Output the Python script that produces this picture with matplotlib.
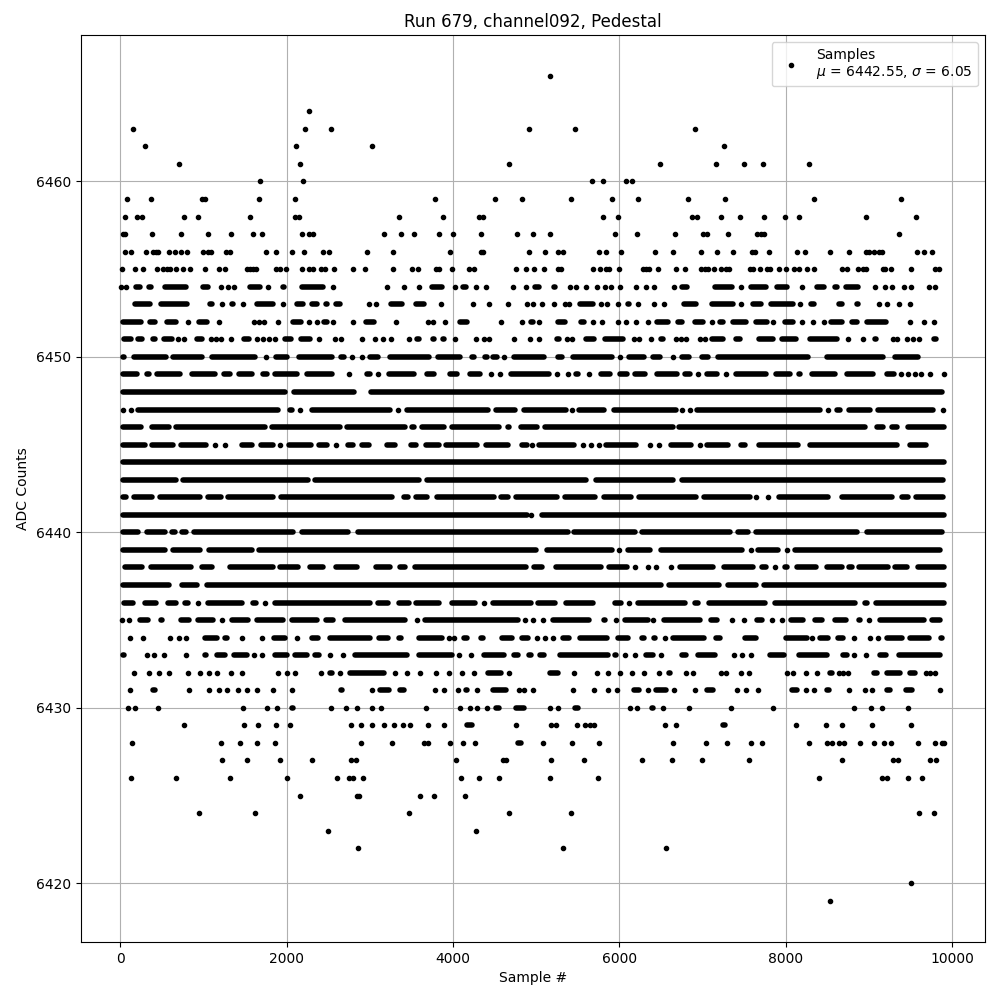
import matplotlib
matplotlib.use("Agg")
import matplotlib.pyplot as plt

# Values. A plain number is one visible sample; an (a, b) pair is a
# stretch of a row where the dots merge and single samples cannot be read, drawn as a bar.
L6466 = [5164]
L6464 = [2263]
L6463 = [153, 2215, 2529, 4917, 5465, 6913]
L6462 = [297, 2106, 3023, 7262]
L6461 = [708, 2155, 4675, 6490, 7166, 7503, 7733, 8275]
L6460 = [1672, 2191, 5670, 5803, 6080, 6153]
L6459 = [80, 370, 985, 1017, 1660, 2094, 3783, 4506, 4832, 5417, 5912, 6225, 6828, 7274, 8336, 9385]
L6458 = [56, 201, 261, 768, 937, 1552, 2094, 2143, 3349, 3879, 4313, 4362, 5803, 5984, 6876, 6937, 7226, 7455, 7745, 7986, 8155, 8963, 9566]
L6457 = [28, 60, 382, 732, 1057, 1323, 1588, 1696, 2179, 2263, 2312, 3168, 3373, 3530, 3831, 4000, 4338, 4772, 4965, 5164, 5948, 6213, 6671, 7009, 7057, 7311, 7660, 7708, 7745, 9361]
L6456 = [56, 129, 310, 394, 430, 454, 587, 659, 732, 804, 997, 1057, 1093, 1270, 1311, 1745, 1865, 2062, 2203, 2432, 2504, 2963, 3276, 3964, 4330, 4360, 4917, 5104, 5260, 5321, 5755, 5839, 6020, 6430, 6647, 6985, 7178, 7371, 7600, 7636, 7805, 8131, 8227, 8529, 8758, 8963, 8999, 9060, 9120, 9156, 9578, 9662, 9759]
L6455 = [20, 177, 273, 442, 515, 563, 599, 671, 756, 840, 1021, 1190, 1262, 1516, 1552, 1588, 1624, 1865, 1914, 1986, 2179, 2263, 2312, 2408, 2456, 2565, 2794, 2939, 3276, 3505, 3578, 3795, 3831, 3988, 4193, 4253, 4760, 4880, 4977, 5091, 5260, 5297, 5682, 5767, 5839, 5875, 5996, 6285, 6322, 6358, 6466, 6683, 6792, 6985, 7033, 7069, 7142, 7226, 7286, 7323, 7576, 7612, 7696, 7781, 7817, 7914, 8000, 8095, 8155, 8251, 8336, 8673, 8734, 8866, 8927, 8963, 9168, 9192, 9264, 9505, 9795, 9843]
L6454 = [8, 68, (153, 269), (310, 402), (503, 816), (961, 1081), 1214, 1298, 1371, (1528, 1708), 1769, (1926, 1998), (2151, 2472), (2529, 2589), 3204, 3409, 3586, (3719, 3903), 4024, (4088, 4193), 4277, 4398, 4724, 4880, (4949, 5067), (5187, 5260), 5405, 5473, 5598, 5731, 5827, 5900, 6008, (6177, 6225), 6322, 6418, 6659, (6724, 6844), (7118, 7391), 7467, (7552, 7801), (7865, 8042), 8199, (8348, 8492), (8565, 8645), (8697, 8902), 9071, 9192, 9276, 9421, 9505, 9723, 9795]
L6453 = [(141, 382), (454, 832), (1045, 1138), (1186, 1250), (1307, 1387), 1479, (1612, 1861), 1950, (2090, 2231), (2271, 2392), (2440, 2513), (2565, 2673), 2987, 3071, (3216, 3421), (3518, 3686), (3831, 3879), (4217, 4265), 4434, 4663, (4856, 4917), 4967, 5067, 5208, 5341, 5389, (5498, 5711), 5779, 5851, (5960, 6012), (6072, 6153), 6225, 6418, 6539, (6740, 6949), (7085, 7399), 7467, (7576, 7733), (7793, 8123), 8167, (8275, 8372), (8613, 8710), (8830, 8902), 9120, 9216, (9337, 9389), 9493, (9626, 9698)]
L6452 = [(0, 273), (326, 446), (527, 704), 816, (913, 1069), (1154, 1210), (1335, 1403), 1600, 1668, 1729, 1897, (2038, 2199), 2271, 2360, (2416, 2513), 2561, 2794, (2915, 3083), 3313, 3698, 3759, (3879, 3936), (4048, 4201), (4329, 4394), (4543, 4603), 4832, (4904, 4997), 5035, (5228, 5381), (5510, 5610), 5682, 5791, 5984, (6044, 6105), (6177, 6225), 6346, (6418, 6611), (6675, 6788), (6876, 7037), 7118, (7178, 7278), (7335, 7560), (7608, 7809), 7853, (7962, 8115), 8191, 8324, 8456, (8516, 8705), (8766, 8886), (8951, 9240), 9493, 9662, 9783]
L6451 = [(12, 161), (181, 285), (362, 442), (494, 647), 695, 768, (884, 1017), 1093, 1154, 1214, 1335, (1455, 1580), 1636, 1709, 1781, 1853, (1950, 2082), (2143, 2312), (2360, 2412), 2577, 2657, 2902, 3059, 3156, (3236, 3276), 3469, (3538, 3622), (3731, 3799), (3847, 3920), (4000, 4048), (4241, 4301), 4370, 4430, 4736, 4929, (4997, 5059), (5220, 5309), 5369, 5429, (5570, 5731), (5791, 6072), 6177, 6237, 6378, (6474, 6555), 6683, 6744, 6804, 6965, 7025, (7077, 7278), (7367, 7479), (7648, 7881), (7921, 8155), (8263, 8645), (8726, 8766), (8898, 8951), (9047, 9120), 9288, 9337, 9457, 9530, 9602, (9751, 9843)]
L6450 = [(0, 80), (129, 583), (603, 1017), (1065, 1648), 1749, (1837, 2030), (2110, 2573), (2625, 2714), 2782, 2902, (2963, 3124), (3204, 3739), (3791, 4121), (4201, 4281), (4346, 4434), (4450, 4563), 4611, (4704, 5128), (5228, 5341), (5409, 5944), 6008, (6080, 6322), (6374, 6515), 6647, (6724, 6868), (6957, 7101), (7158, 8304), (8464, 9200), (9280, 9618), (9723, 9795)]
L6449 = [(0, 229), (281, 374), (406, 752), (832, 1166), (1218, 1347), (1395, 1608), (1684, 1797), (1829, 2159), (2207, 2577), 2754, (2935, 3035), 3099, (3196, 3566), (3658, 3807), (3932, 4080), (4173, 4354), 4450, 4563, (4667, 5180), 5248, 5381, (5449, 5530), 5630, (5751, 5920), (5976, 6121), (6161, 6334), (6426, 6724), (6763, 6876), 6949, (7025, 7206), 7286, (7367, 7801), (7849, 8083), (8123, 8203), (8283, 8625), (8705, 9087), (9188, 9329), 9389, 9469, 9550, 9630, 9731, 9904]
L6448 = [(0, 2010), (2050, 2842), (2975, 9912)]
L6447 = [(0, 60), 121, (173, 1930), (2010, 2090), 2159, (2271, 3268), 3337, (3417, 4450), (4482, 4772), (4824, 5389), 5429, (5478, 5843), (5904, 6707), 6756, 6848, (6904, 8444), (8484, 8545), (8585, 8685), (8726, 9047), (9079, 9803), 9892]
L6446 = [(0, 281), (350, 615), (639, 1769), (1789, 2673), (2693, 3457), (3477, 3558), (3590, 3920), (3952, 4583), (4623, 4704), (4784, 5047), (5075, 6675), (6683, 8987), (9067, 9208), (9248, 9369), (9441, 9932)]
L6445 = [(0, 322), (350, 663), (695, 1065), 1138, 1258, (1427, 1608), (1660, 1861), 1918, (1998, 2320), (2360, 2521), 2593, (2706, 2834), (2874, 3015), (3176, 3337), (3457, 3590), (3646, 3859), (3887, 4321), (4362, 4692), (4796, 4925), 4947, (5007, 5490), 5562, 5658, 5751, (5811, 6233), 6366, 6474, (6587, 6896), 6965, (7025, 7339), (7427, 7548), (7648, 8183), (8263, 9369), (9457, 9723)]
L6444 = [(0, 9932)]
L6443 = [(0, 704), (724, 2291), (2312, 3618), (3658, 5630), (5691, 6675), (6723, 9924)]
L6442 = [(0, 100), (133, 414), (442, 993), (1025, 1246), (1266, 1869), (1901, 3296), (3377, 3489), (3526, 3719), (3779, 4522), (4543, 4692), (4724, 5276), (5317, 5743), (5779, 6173), (6201, 6957), (6985, 7608), 7640, 7789, (7893, 8537), (8645, 9309), (9361, 9497), (9537, 9924)]
L6441 = [(0, 4925), 4939, (5039, 9932)]
L6440 = [(0, 241), (281, 563), (583, 683), (712, 824), (856, 2110), (2151, 2774), (2826, 5409), (5421, 6225), (6241, 7367), (7391, 7580), (7608, 8895), (8947, 9912)]
L6439 = [(0, 563), (603, 985), (1029, 1608), (1628, 5027), (5099, 5944), 6000, (6072, 6402), (6474, 7511), 7580, (7640, 7942), 8010, (8074, 9892)]
L6438 = [(28, 293), (334, 884), (945, 1138), (1186, 1258), (1286, 1861), (1889, 2163), (2251, 2472), (2565, 2874), (3035, 3276), (3325, 3457), (3509, 4904), (4945, 5099), (5208, 5811), (5839, 6121), 6193, 6346, 6442, 6615, (6695, 7158), (7230, 7640), (7680, 7801), (7841, 7901), (7954, 8050), (8107, 8396), (8464, 8705), (8726, 8826), (8854, 9268), (9288, 9489), (9562, 9932)]
L6437 = [(0, 615), (712, 953), (1005, 6535), (6563, 7230), (7278, 7680), (7712, 9932)]
L6436 = [(12, 181), (261, 462), (535, 695), (744, 844), 937, (1025, 1499), (1560, 1656), 1741, (1829, 3027), (3059, 3244), (3317, 3497), (3526, 3863), (3952, 4293), 4374, (4450, 4973), (4995, 5260), (5329, 5711), (5912, 6052), 6121, (6193, 6816), (6876, 6977), (7049, 7781), (7841, 8866), (8927, 9015), (9055, 9932)]
L6435 = [(0, 40), 101, (201, 362), (454, 535), (695, 856), (905, 1146), 1226, (1315, 1568), (1608, 1990), (2030, 2392), (2440, 2593), (2673, 3457), 3566, (3630, 4812), 4864, 4955, 5087, (5168, 5662), (5783, 5863), 5960, (6040, 6374), 6406, (6502, 6997), (7065, 7206), 7359, 7504, (7620, 7753), 7833, 7950, (8034, 8243), (8324, 8464), (8557, 8758), (8846, 8927), 8999, (9107, 9690), (9731, 9883)]
L6434 = [109, 273, 591, 708, 792, (985, 1194), (1226, 1315), 1467, 1700, (1813, 2010), 2119, (2271, 2408), (2492, 3035), (3075, 3244), (3317, 3409), (3558, 3899), 3948, 4012, (4100, 4201), (4301, 4394), (4551, 4736), (4796, 4933), 5007, 5104, 5200, (5288, 5429), (5490, 5883), (5952, 6133), (6241, 6322), (6386, 6466), 6551, (6615, 7045), (7126, 7238), (7479, 7680), (7970, 8283), 8316, (8384, 8545), (8597, 8726), (8786, 8846), (8987, 9047), 9112, (9188, 9429), (9469, 9751), (9831, 9912)]
L6433 = [(0, 80), 314, 406, (503, 543), 792, (985, 1065), (1126, 1286), (1339, 1548), 1608, 1696, (1829, 2030), (2070, 2271), (2312, 2424), 2521, 2681, (2794, 3477), (3558, 4020), 4072, 4213, (4342, 4643), (4704, 4812), (4884, 4965), (5019, 5128), (5248, 5892), (5912, 5992), 6072, (6161, 6225), (6293, 6434), (6474, 6535), (6716, 6828), (6917, 7178), 7383, 7479, 7588, (7781, 8010), (8123, 8525), (8653, 8766), 8818, 8971, (9107, 9240), (9329, 9892)]
L6432 = [165, 346, 462, 587, 816, 961, 1069, 1166, (1298, 1355), 1463, (1869, 1930), 1998, 2094, (2392, 2432), (2492, 2573), 2637, (2734, 3196), (3276, 3337), 3445, (3578, 3638), 3795, 3952, (4080, 4141), 4249, (4382, 4603), 4675, (4985, 5059), (5128, 5288), (5429, 5490), (5622, 5690), 5731, 5863, (5984, 6032), 6153, 6297, 6478, (6563, 6643), (6780, 6816), 6884, 7218, 7286, 7467, 7564, 8010, 8090, 8239, 8376, (8504, 8585), 8637, 8693, 8754, (9027, 9128), (9188, 9409), (9469, 9590), 9682, 9739, 9795, (9843, 9912)]
L6431 = [117, (362, 442), 828, 1069, 1186, 1286, 1419, 1516, 1636, (1809, 1853), (2038, 2086), (2625, 2697), (2826, 2894), 3023, (3083, 3256), (3329, 3437), 3783, (3859, 3920), 4060, (4120, 4201), 4289, (4442, 4663), 4796, 4852, 4965, (5409, 5469), 5690, 5863, 5972, (6145, 6273), 6346, (6406, 6595), 6659, 6905, (7017, 7158), 7419, 7528, (7648, 7688), (8042, 8171), 8239, 8336, (8464, 8557), 8758, 8951, (9007, 9067), (9188, 9288), (9409, 9550), 9855]
L6430 = [92, 177, (430, 482), (1270, 1335), 1479, 1757, 1877, (2030, 2110), 2529, 2717, 2842, (2995, 3055), 3128, 3670, 4084, 4205, 4289, 4410, (4482, 4583), (4724, 4884), 5164, 5260, (5437, 5530), 6133, 6213, (6366, 6442), 6523, (6804, 6864), 7347, 7853, 8818, 9023, (9136, 9188), 9469]
L6429 = [(744, 792), 1491, 1648, 1865, (2022, 2058), 2770, 2898, 3023, 3168, 3288, 3397, 3485, 3698, 3891, (4141, 4261), 4760, 5176, 5236, 5489, 5586, 5642, 5698, 6551, 6683, (7218, 7307), 8119, 8480, 8673, 9035, (9473, 9530)]
L6428 = [141, 1214, 1443, 1636, 1853, 2890, 3264, 3646, 3698, 3964, 4120, 4265, (4744, 4844), 5079, 5429, 5755, 6647, 7041, 7294, 7588, 7721, 8275, 8492, 8557, 8645, 8705, 8891, 9059, 9180, 9264, 9590, 9795, 9875, 9904]
L6427 = [1226, 1516, 1914, 2299, 2770, 2830, 4036, 4603, 4635, 5176, 5574, 6273, 6635, 6997, 7564, 8673, 9288, 9349, 9735, 9803]
L6426 = [129, 671, 1311, 1998, 2601, 2746, 2794, 2915, 4096, 4313, 4555, 5164, 5743, 8396, 9156, 9216, 9469, 9638]
L6425 = [2155, 2842, 2866, 3602, 3771, 4145]
L6424 = [949, 1612, 3469, 4675, 5417, 9602, 9783]
L6423 = [2492, 4277]
L6422 = [2854, 5321, 6563]
L6420 = [9505]
L6419 = [8529]

ADC_LEVELS = [6466, 6464, 6463, 6462, 6461, 6460, 6459, 6458, 6457, 6456, 6455, 6454, 6453, 6452, 6451, 6450, 6449, 6448, 6447, 6446, 6445, 6444, 6443, 6442, 6441, 6440, 6439, 6438, 6437, 6436, 6435, 6434, 6433, 6432, 6431, 6430, 6429, 6428, 6427, 6426, 6425, 6424, 6423, 6422, 6420, 6419]
ROWS = [L6466, L6464, L6463, L6462, L6461, L6460, L6459, L6458, L6457, L6456, L6455, L6454, L6453, L6452, L6451, L6450, L6449, L6448, L6447, L6446, L6445, L6444, L6443, L6442, L6441, L6440, L6439, L6438, L6437, L6436, L6435, L6434, L6433, L6432, L6431, L6430, L6429, L6428, L6427, L6426, L6425, L6424, L6423, L6422, L6420, L6419]

TITLE = "Run 679, channel092, Pedestal"
LEGEND_LABEL = "Samples\n$\\mu$ = 6442.55, $\\sigma$ = 6.05"
DOT_RADIUS = 32  # half a dot's width in samples: run ends were read at the dots' outer edge

fig, ax = plt.subplots(figsize=(10, 10), dpi=100)
px, py = [], []
for level, row in zip(ADC_LEVELS, ROWS):
    for item in row:
        if isinstance(item, tuple):
            a, b = item[0] + DOT_RADIUS, item[1] - DOT_RADIUS
            if b <= a:
                a = b = (item[0] + item[1]) / 2
                px.append(a)
                py.append(level)
            else:
                ax.plot([a, b], [level, level], color="black", lw=4,
                        solid_capstyle="round", zorder=2)
        else:
            px.append(item)
            py.append(level)
ax.plot(px, py, "k.", linestyle="none", label=LEGEND_LABEL, zorder=2)

ax.set_xlim(-481, 10397)
ax.set_ylim(6416.65, 6468.35)
ax.set_yticks([6420, 6430, 6440, 6450, 6460])
ax.set_title(TITLE)
ax.set_xlabel("Sample #")
ax.set_ylabel("ADC Counts")
ax.grid(True)
ax.legend(loc="upper right", numpoints=1)
fig.subplots_adjust(left=0.0805, right=0.985, top=0.965, bottom=0.058)
fig.savefig("out.png", dpi=100)
